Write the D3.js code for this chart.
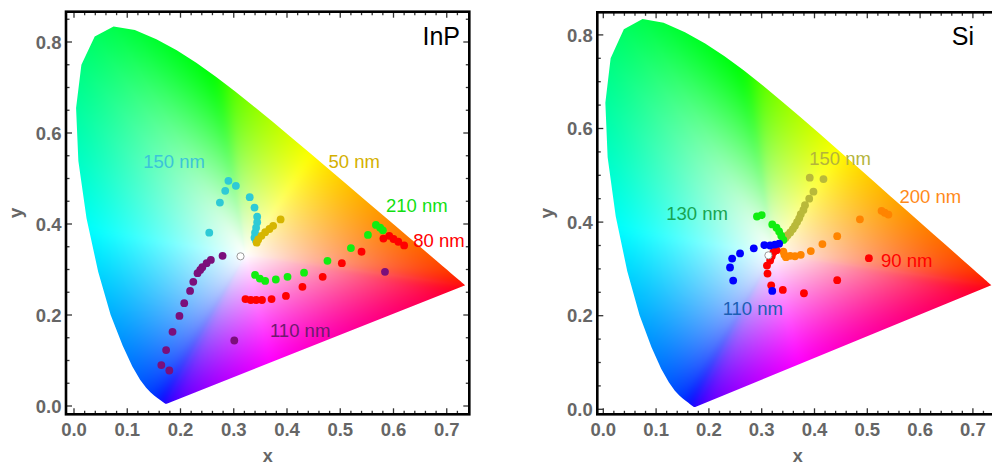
<!DOCTYPE html>
<html><head><meta charset="utf-8">
<script src="https://cdn.jsdelivr.net/npm/d3@7"></script>
<style>body{margin:0;background:#fff;} svg{display:block;}</style>
</head><body>
<svg id="chart" width="992" height="467"></svg>
<script>
// ---------- DATA ----------
// CIE 1931 2° spectral locus, 380–700 nm in 5 nm steps
const locusX = [0.1741,0.1740,0.1738,0.1736,0.1733,0.1730,0.1726,0.1721,0.1714,0.1703,0.1689,0.1669,0.1644,0.1611,0.1566,0.1510,0.1440,0.1355,0.1241,0.1096,0.0913,0.0687,0.0454,0.0235,0.0082,0.0039,0.0139,0.0389,0.0743,0.1142,0.1547,0.1929,0.2296,0.2658,0.3016,0.3373,0.3731,0.4087,0.4441,0.4788,0.5125,0.5448,0.5752,0.6029,0.6270,0.6482,0.6658,0.6801,0.6915,0.7006,0.7079,0.7140,0.7190,0.7230,0.7260,0.7283,0.7300,0.7311,0.7320,0.7327,0.7334,0.7340,0.7344,0.7346,0.7347];
const locusY = [0.0050,0.0050,0.0049,0.0049,0.0048,0.0048,0.0048,0.0048,0.0051,0.0058,0.0069,0.0086,0.0109,0.0138,0.0177,0.0227,0.0297,0.0399,0.0578,0.0868,0.1327,0.2007,0.2950,0.4127,0.5384,0.6548,0.7502,0.8120,0.8338,0.8262,0.8059,0.7816,0.7543,0.7243,0.6923,0.6589,0.6245,0.5896,0.5547,0.5202,0.4866,0.4544,0.4242,0.3965,0.3725,0.3514,0.3340,0.3197,0.3083,0.2993,0.2920,0.2859,0.2809,0.2770,0.2740,0.2717,0.2700,0.2689,0.2680,0.2673,0.2666,0.2660,0.2656,0.2654,0.2653];
const whitePoint = [0.3127, 0.3290];
const xTicks = [0, 0.1, 0.2, 0.3, 0.4, 0.5, 0.6, 0.7];
const yTicks = [0, 0.2, 0.4, 0.6, 0.8];
const xTickLabels = ["0.0","0.1","0.2","0.3","0.4","0.5","0.6","0.7"];
const yTickLabels = ["0.0","0.2","0.4","0.6","0.8"];

// InP panel
const inp150 = [[0.290,0.495],[0.304,0.484],[0.284,0.473],[0.274,0.447],[0.330,0.459],[0.339,0.436],[0.344,0.416],[0.344,0.404],[0.342,0.392],[0.340,0.381],[0.339,0.370],[0.342,0.363],[0.254,0.381]];
const inp50 = [[0.343,0.359],[0.346,0.366],[0.352,0.374],[0.359,0.382],[0.367,0.389],[0.374,0.396],[0.388,0.410]];
const inp110 = [[0.279,0.330],[0.257,0.321],[0.249,0.314],[0.241,0.305],[0.237,0.299],[0.232,0.292],[0.224,0.273],[0.218,0.253],[0.207,0.226],[0.198,0.198],[0.185,0.163],[0.173,0.123],[0.164,0.090],[0.179,0.078],[0.301,0.144],[0.584,0.295]];
const inp210 = [[0.340,0.288],[0.349,0.280],[0.359,0.275],[0.379,0.278],[0.401,0.284],[0.432,0.293],[0.476,0.319],[0.520,0.347],[0.552,0.376],[0.567,0.398],[0.575,0.392],[0.580,0.386]];
const inp80 = [[0.322,0.235],[0.332,0.233],[0.342,0.233],[0.353,0.233],[0.371,0.235],[0.398,0.242],[0.429,0.262],[0.467,0.284],[0.503,0.314],[0.540,0.339],[0.581,0.368],[0.592,0.374],[0.600,0.367],[0.609,0.361],[0.620,0.353]];

// Si panel
const si150 = [[0.391,0.495],[0.417,0.492],[0.398,0.465],[0.390,0.450],[0.382,0.436],[0.379,0.426],[0.374,0.417],[0.371,0.408],[0.367,0.400],[0.363,0.392],[0.359,0.385],[0.354,0.378],[0.349,0.372],[0.345,0.366]];
const si200 = [[0.341,0.337],[0.343,0.330],[0.346,0.325],[0.354,0.328],[0.363,0.327],[0.374,0.330],[0.393,0.338],[0.415,0.353],[0.443,0.370],[0.486,0.406],[0.527,0.424],[0.533,0.420],[0.540,0.416]];
const si130 = [[0.291,0.412],[0.300,0.415],[0.320,0.395],[0.328,0.388],[0.333,0.380],[0.337,0.371],[0.341,0.362]];
const si90 = [[0.328,0.340],[0.322,0.335],[0.319,0.327],[0.316,0.318],[0.310,0.307],[0.311,0.290],[0.318,0.265],[0.340,0.255],[0.380,0.248],[0.443,0.276],[0.503,0.323]];
const si110 = [[0.333,0.354],[0.325,0.352],[0.316,0.350],[0.305,0.351],[0.285,0.344],[0.259,0.333],[0.244,0.322],[0.240,0.303],[0.246,0.275],[0.320,0.253]];

const inpLabels = ["150 nm","50 nm","210 nm","80 nm","110 nm"];
const inpLabelAt = [[0.130,0.522],[0.478,0.522],[0.586,0.426],[0.637,0.350],[0.368,0.151]];
const siLabels = ["150 nm","200 nm","130 nm","90 nm","110 nm"];
const siLabelAt = [[0.390,0.521],[0.561,0.441],[0.119,0.404],[0.526,0.303],[0.226,0.201]];

// ---------- DRAW ----------
const svg = d3.select("#chart");
const locus = locusX.map((x,i)=>[x, locusY[i]]);
const fillCenter = [0.322, 0.332];

// saturated colour of a chromaticity (CIE RGB primaries, normalised, sRGB gamma)
function boundaryColor(x, y){
  y = Math.max(y, 0.002);
  const X = x/y, Y = 1, Z = (1-x-y)/y;
  let r = 2.3646*X - 0.8965*Y - 0.4681*Z;
  let g = -0.5152*X + 1.4264*Y + 0.0888*Z;
  let b = 0.0052*X - 0.0144*Y + 1.0092*Z;
  r = Math.max(r,0); g = Math.max(g,0); b = Math.max(b,0);
  const m = Math.max(r,g,b) || 1;
  const gam = v => v <= 0.0031308 ? 12.92*v : 1.055*Math.pow(v,1/2.4)-0.055;
  return [gam(r/m)*255, gam(g/m)*255, gam(b/m)*255];
}

// angular lookup table: distance to boundary and boundary colour
const NA = 3600;
const lutDist = new Float64Array(NA);
let lutCol = [];
(function(){
  const poly = locus.concat([locus[0]]);
  for (let k=0;k<NA;k++){
    const a = k*2*Math.PI/NA, dx = Math.cos(a), dy = Math.sin(a);
    let best = Infinity;
    for (let i=0;i<poly.length-1;i++){
      const p = poly[i], q = poly[i+1];
      const ex = q[0]-p[0], ey = q[1]-p[1];
      const den = dx*ey - dy*ex;
      if (Math.abs(den) < 1e-12) continue;
      const wx = p[0]-fillCenter[0], wy = p[1]-fillCenter[1];
      const s = (wx*ey - wy*ex)/den;
      const u = (wx*dy - wy*dx)/den;
      if (s > 0 && u >= -1e-9 && u <= 1+1e-9 && s < best) best = s;
    }
    lutDist[k] = best;
    lutCol.push(boundaryColor(fillCenter[0]+best*dx, fillCenter[1]+best*dy));
  }
  // soften angular kinks (two box passes, ±2°)
  for (let pass=0; pass<2; pass++){
    const W = 20, out = [];
    for (let k=0;k<NA;k++){
      let s0=0,s1=0,s2=0;
      for (let d=-W; d<=W; d++){ const c = lutCol[(k+d+NA)%NA]; s0+=c[0]; s1+=c[1]; s2+=c[2]; }
      const n = 2*W+1; out.push([s0/n,s1/n,s2/n]);
    }
    lutCol = out;
  }
})();

function fillColor(x, y){
  const vx = x - fillCenter[0], vy = y - fillCenter[1];
  const r = Math.hypot(vx, vy);
  let a = Math.atan2(vy, vx); if (a < 0) a += 2*Math.PI;
  const f = a/(2*Math.PI)*NA, k0 = Math.floor(f) % NA, k1 = (k0+1) % NA, fr = f - Math.floor(f);
  const dist = lutDist[k0]*(1-fr) + lutDist[k1]*fr;
  let t = Math.min(1, r/dist);
  t = 1 - Math.pow(1 - t, 1.2);
  const c0 = lutCol[k0], c1 = lutCol[k1];
  const c = [c0[0]*(1-fr)+c1[0]*fr, c0[1]*(1-fr)+c1[1]*fr, c0[2]*(1-fr)+c1[2]*fr];
  return [255*(1-t)+c[0]*t, 255*(1-t)+c[1]*t, 255*(1-t)+c[2]*t];
}

function drawPanel(cfg){
  const {id, frame, xRange, yRange, series, labels, labelAt, labelColors, title, titleX} = cfg;
  const x = d3.scaleLinear().domain([0,0.7]).range(xRange);
  const y = d3.scaleLinear().domain([0,0.8]).range(yRange);
  const g = svg.append("g");

  // chromaticity fill
  const w = Math.ceil(frame.x1 - frame.x0), h = Math.ceil(frame.y1 - frame.y0);
  const cv = document.createElement("canvas");
  cv.width = w; cv.height = h;
  const ctx = cv.getContext("2d");
  const img = ctx.createImageData(w, h);
  for (let j=0;j<h;j++){
    const yy = y.invert(frame.y0 + j + 0.5);
    for (let i=0;i<w;i++){
      const xx = x.invert(frame.x0 + i + 0.5);
      const c = fillColor(xx, yy);
      const k = (j*w+i)*4;
      img.data[k]=c[0]; img.data[k+1]=c[1]; img.data[k+2]=c[2]; img.data[k+3]=255;
    }
  }
  ctx.putImageData(img,0,0);
  const line = d3.line().x(d=>x(d[0])).y(d=>y(d[1]));
  svg.append("clipPath").attr("id","clip"+id)
    .append("path").attr("d", line(locus)+"Z");
  g.append("image").attr("href", cv.toDataURL())
    .attr("x", frame.x0).attr("y", frame.y0).attr("width", w).attr("height", h)
    .attr("clip-path", `url(#clip${id})`);

  // series points
  series.forEach(s=>{
    g.append("g").selectAll("circle").data(s.data).join("circle")
      .attr("cx", d=>x(d[0])).attr("cy", d=>y(d[1])).attr("r", 3.9)
      .attr("fill", s.color);
  });
  // white point
  g.append("circle").attr("cx", x(whitePoint[0])).attr("cy", y(whitePoint[1]))
    .attr("r", 3.6).attr("fill","#fff").attr("stroke","#9a9a9a").attr("stroke-width",1);

  // labels
  g.append("g").selectAll("text").data(labels).join("text")
    .attr("x",(d,i)=>x(labelAt[i][0])).attr("y",(d,i)=>y(labelAt[i][1]))
    .attr("fill",(d,i)=>labelColors[i])
    .attr("font-family","Liberation Sans, Arial, sans-serif").attr("font-size",18.5)
    .text(d=>d);

  // title
  g.append("text").attr("x", titleX).attr("y", 45).attr("text-anchor","end")
    .attr("font-family","Liberation Sans, Arial, sans-serif").attr("font-size",25)
    .attr("fill","#000").text(title);

  // ticks (inward) on all sides
  const tickG = g.append("g").attr("stroke","#333").attr("stroke-width",1.3);
  const xMinor = d3.range(0, 0.741, 0.02);
  const yMinor = d3.range(0, 0.861, 0.05);
  xMinor.forEach(v=>{
    const px = x(v); if (px < frame.x0+2 || px > frame.x1-2) return;
    const major = Math.abs(v*10 - Math.round(v*10)) < 1e-6;
    const L = major ? 6 : 3.5;
    tickG.append("line").attr("x1",px).attr("x2",px).attr("y1",frame.y1).attr("y2",frame.y1-L);
    tickG.append("line").attr("x1",px).attr("x2",px).attr("y1",frame.y0).attr("y2",frame.y0+L);
  });
  yMinor.forEach(v=>{
    const py = y(v); if (py < frame.y0+2 || py > frame.y1-2) return;
    const major = Math.abs(v*5 - Math.round(v*5)) < 1e-6;
    const L = major ? 6 : 3.5;
    tickG.append("line").attr("x1",frame.x0).attr("x2",frame.x0+L).attr("y1",py).attr("y2",py);
    tickG.append("line").attr("x1",frame.x1).attr("x2",frame.x1-L).attr("y1",py).attr("y2",py);
  });

  // frame
  g.append("rect").attr("x",frame.x0).attr("y",frame.y0)
    .attr("width",frame.x1-frame.x0).attr("height",frame.y1-frame.y0)
    .attr("fill","none").attr("stroke","#000").attr("stroke-width",2.6);

  // tick labels
  const tf = "Liberation Sans, Arial, sans-serif";
  g.append("g").selectAll("text").data(xTicks).join("text")
    .attr("x", d=>x(d)).attr("y", 436).attr("text-anchor","middle")
    .attr("font-family",tf).attr("font-size",18.5).attr("font-weight","bold")
    .attr("fill","#666").text((d,i)=>xTickLabels[i]);
  g.append("g").selectAll("text").data(yTicks).join("text")
    .attr("x", frame.x0 - 4.5).attr("y", d=>y(d)).attr("dy","0.36em").attr("text-anchor","end")
    .attr("font-family",tf).attr("font-size",18.5).attr("font-weight","bold")
    .attr("fill","#666").text((d,i)=>yTickLabels[i]);

  // axis titles
  g.append("text").attr("x",(frame.x0+frame.x1)/2).attr("y",462).attr("text-anchor","middle")
    .attr("font-family",tf).attr("font-size",18).attr("font-weight","bold").attr("fill","#666").text("x");
  const ycx = frame.x0 - 50, ycy = (frame.y0+frame.y1)/2;
  g.append("text").attr("transform",`translate(${ycx},${ycy}) rotate(-90)`)
    .attr("text-anchor","middle").attr("dy","0.3em")
    .attr("font-family",tf).attr("font-size",19).attr("font-weight","bold").attr("fill","#666").text("y");
}

drawPanel({
  id:"inp", title:"InP", titleX: 460,
  frame:{x0:66, y0:11.7, x1:469.3, y1:414.3},
  xRange:[74, 446.75], yRange:[406, 42],
  series:[
    {data:inp150, color:"#2ecad6"},
    {data:inp50, color:"#d6b600"},
    {data:inp110, color:"#7b0f7b"},
    {data:inp210, color:"#11ee11"},
    {data:inp80, color:"#ff0000"}
  ],
  labels: inpLabels, labelAt: inpLabelAt,
  labelColors:["#3cc4d8","#d4b000","#11e011","#ff0000","#6e1a6e"]
});

drawPanel({
  id:"si", title:"Si", titleX: 974,
  frame:{x0:597.3, y0:12.3, x1:998, y1:414.3},
  xRange:[603.3, 972.9], yRange:[409.3, 34.9],
  series:[
    {data:si150, color:"#b9b93a"},
    {data:si200, color:"#ff8400"},
    {data:si130, color:"#11ee11"},
    {data:si90, color:"#ff0000"},
    {data:si110, color:"#0000ff"}
  ],
  labels: siLabels, labelAt: siLabelAt,
  labelColors:["#b4b43c","#ff8a1a","#16a552","#ff0000","#1a5fb4"]
});
</script>
</body></html>
